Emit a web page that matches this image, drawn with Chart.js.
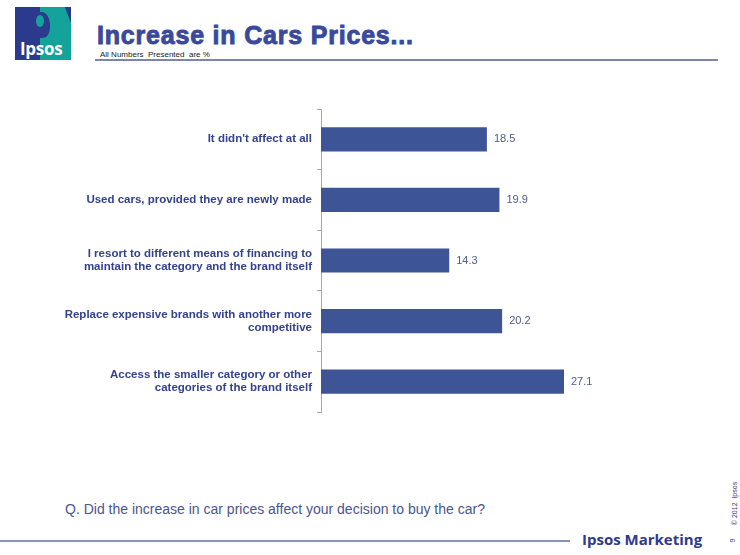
<!DOCTYPE html>
<html>
<head>
<meta charset="utf-8">
<script src="https://cdn.jsdelivr.net/npm/chart.js@4"></script>
<style>
  html,body{margin:0;padding:0;background:#fff;}
  #wrap{position:relative;width:740px;height:555px;overflow:hidden;font-family:"Liberation Sans",Arial,sans-serif;}
  #c{position:absolute;left:0;top:0;}
  .abs{position:absolute;white-space:nowrap;}
</style>
</head>
<body>
<div id="wrap">
  <!-- logo -->
  <div class="abs" style="left:15px;top:7px;width:56px;height:53px;background:#2C3A8E;"></div>
  <div class="abs" style="left:40px;top:7px;width:31px;height:53px;background:#13A39A;clip-path:polygon(0 0,80% 0,100% 30%,100% 100%,0 100%);"></div>
  <div class="abs" style="left:33px;top:12px;width:17px;height:26px;background:#2C3A8E;border-radius:50% 50% 40% 45%;"></div>
  <div class="abs" style="left:36px;top:15px;width:8px;height:12px;background:#13A39A;border-radius:50%;"></div>
  <div class="abs" style="left:20px;top:37px;font:bold 17px 'Open Sans',sans-serif;color:#fff;letter-spacing:-0.3px;">Ipsos</div>
  <!-- title -->
  <div class="abs" id="title" style="left:97px;top:21px;font:bold 25px 'Liberation Sans',Arial,sans-serif;color:#3A4A9A;letter-spacing:0.8px;-webkit-text-stroke:0.9px #3A4A9A;">Increase in Cars Prices...</div>
  <div class="abs" style="left:100px;top:50px;font:8px 'Liberation Sans',Arial,sans-serif;color:#222;">All Numbers&nbsp; Presented&nbsp; are %</div>
  <div class="abs" style="left:95px;top:59px;width:623px;height:2px;background:#7C86A8;"></div>
  <!-- question -->
  <div class="abs" style="left:65px;top:501px;font:14px 'Liberation Sans',Arial,sans-serif;color:#4A5590;">Q. Did the increase in car prices affect your decision to buy the car?</div>
  <div class="abs" style="left:0px;top:540px;width:570px;height:2px;background:#8A93BE;"></div>
  <div class="abs" style="left:582px;top:529px;font:bold 15px 'Open Sans',sans-serif;color:#2E3A8C;">Ipsos Marketing</div>
  <div class="abs" style="left:712px;top:500px;font:7px 'Liberation Sans',Arial,sans-serif;color:#2E3A8C;transform:rotate(-90deg);transform-origin:center;width:44px;text-align:center;">© 2012&nbsp; Ipsos</div>
  <div class="abs" style="left:731px;top:537px;font:7px 'Liberation Sans',Arial,sans-serif;color:#2E3A8C;transform:rotate(-90deg);">9</div>
  <canvas id="c" width="740" height="555"></canvas>
</div>
<script>
const categories = [
  "It didn't affect at all",
  "Used cars, provided they are newly made",
  ["I resort to different means of financing to", "maintain the category and the brand itself"],
  ["Replace expensive brands with another more", "competitive"],
  ["Access the smaller category or other", "categories of the brand itself"]
];
const values = [18.5, 19.9, 14.3, 20.2, 27.1];
const xMax = 30;

const valueLabels = {
  id: 'valueLabels',
  afterDatasetsDraw(chart) {
    const ctx = chart.ctx;
    const meta = chart.getDatasetMeta(0);
    ctx.save();
    ctx.font = '11px "Liberation Sans", Arial, sans-serif';
    ctx.fillStyle = '#4D5B8F';
    ctx.textAlign = 'left';
    ctx.textBaseline = 'middle';
    meta.data.forEach((bar, i) => {
      ctx.fillText(values[i].toFixed(1), bar.x + 7, bar.y);
    });
    ctx.restore();
  }
};

new Chart(document.getElementById('c'), {
  type: 'bar',
  data: {
    labels: categories,
    datasets: [{
      data: values,
      backgroundColor: '#3D5497',
      borderWidth: 0,
      categoryPercentage: 1,
      barPercentage: 0.4
    }]
  },
  options: {
    indexAxis: 'y',
    responsive: false,
    animation: false,
    events: [],
    layout: { padding: { left: 0, top: 109, bottom: 143, right: 150 } },
    plugins: { legend: { display: false }, tooltip: { enabled: false } },
    scales: {
      x: { display: false, min: 0, max: xMax },
      y: {
        afterFit(scale) { scale.width = 321; },
        border: { display: true, color: '#A8A8A8', width: 1 },
        grid: { drawOnChartArea: false, drawTicks: true, tickLength: 4, color: '#A8A8A8', offset: true },
        ticks: {
          padding: 5,
          color: '#34428F',
          font: { family: '"Liberation Sans", Arial, sans-serif', size: 11.5, weight: 'bold', lineHeight: 1.15 }
        }
      }
    }
  },
  plugins: [valueLabels]
});
</script>
</body>
</html>
